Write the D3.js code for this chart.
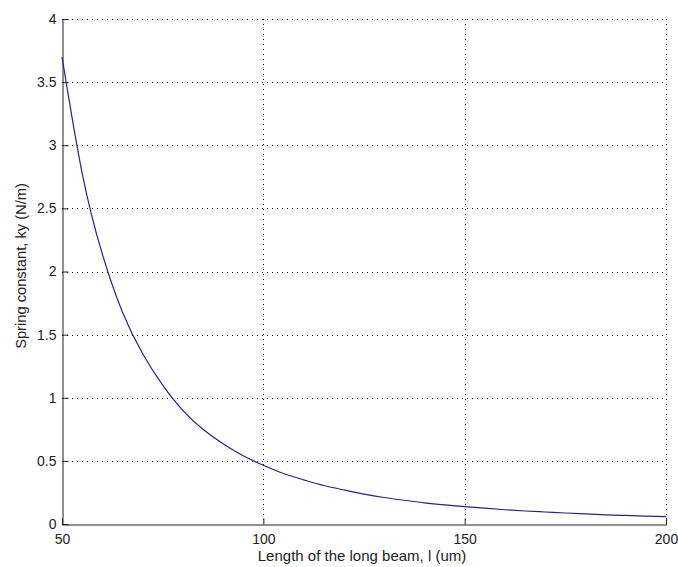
<!DOCTYPE html>
<html><head><meta charset="utf-8">
<script src="https://cdn.jsdelivr.net/npm/d3@7"></script>
<style>body{margin:0;background:#fff}svg{display:block}text{font-family:"Liberation Sans",Arial,sans-serif;fill:#222}</style>
</head><body>
<svg id="c" width="678" height="567"></svg>
<script>
const lengths = [50,55,60,65,70,75,80,85,90,95,100,105,110,115,120,125,130,135,140,145,150,155,160,165,170,175,180,185,190,195,200];
const springK = [3.70,2.78,2.14,1.68,1.35,1.10,0.90,0.75,0.635,0.54,0.465,0.40,0.35,0.305,0.27,0.237,0.21,0.188,0.168,0.152,0.138,0.125,0.113,0.103,0.095,0.087,0.080,0.073,0.068,0.063,0.058];
const xTicks = [50,100,150,200];
const yTicks = [0,0.5,1,1.5,2,2.5,3,3.5,4];
const xLabel = "Length of the long beam, l (um)";
const yLabel = "Spring constant, ky (N/m)";

const L=62, R=666, T=19, B=524;
const svg=d3.select("#c");
const x=d3.scaleLinear().domain([50,200]).range([L,R]);
const y=d3.scaleLinear().domain([0,4]).range([B,T]);

// grid
svg.append("g").selectAll("line").data(xTicks.slice(1)).join("line")
  .attr("x1",d=>x(d)+0.5).attr("x2",d=>x(d)+0.5).attr("y1",T).attr("y2",B)
  .attr("stroke","#000").attr("stroke-dasharray","1,4").attr("shape-rendering","crispEdges");
svg.append("g").selectAll("line").data(yTicks.slice(1)).join("line")
  .attr("y1",d=>y(d)+0.5).attr("y2",d=>y(d)+0.5).attr("x1",L).attr("x2",R)
  .attr("stroke","#000").attr("stroke-dasharray","1,4").attr("shape-rendering","crispEdges");

// axes
const gx=svg.append("g").attr("transform",`translate(0,${B+0.5})`)
  .call(d3.axisBottom(x).tickValues(xTicks).tickSize(-6).tickPadding(10).tickFormat(d3.format("d")));
const gy=svg.append("g").attr("transform",`translate(${L+0.5},0)`)
  .call(d3.axisLeft(y).tickValues(yTicks).tickSize(-6).tickPadding(6).tickFormat(d=>String(d)));
[gx,gy].forEach(g=>{
  g.select(".domain").attr("stroke","#222");
  g.selectAll(".tick line").attr("stroke","#222");
  g.selectAll(".tick text").style("font-size","14px").attr("fill","#222");
});

// curve
svg.append("path").datum(lengths.map((l,i)=>[l,springK[i]]))
  .attr("d",d3.line().x(d=>x(d[0])).y(d=>y(d[1])).curve(d3.curveNatural))
  .attr("fill","none").attr("stroke","#24248c").attr("stroke-width",1.2);

svg.append("text").attr("x",(L+R)/2-2).attr("y",561).attr("text-anchor","middle")
  .style("font-size","15px").text(xLabel);
svg.append("text").attr("transform",`translate(26,266) rotate(-90)`).attr("text-anchor","middle")
  .style("font-size","14.7px").text(yLabel);
</script>
</body></html>
